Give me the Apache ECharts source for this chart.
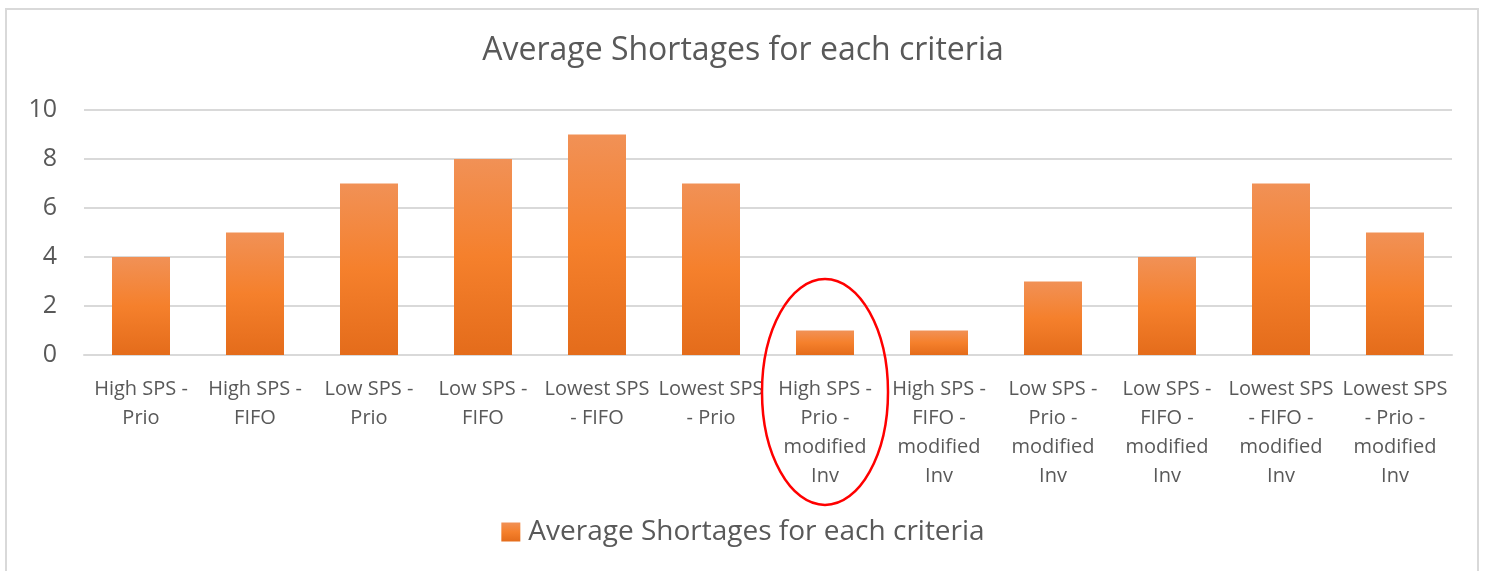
<!DOCTYPE html>
<html>
<head>
<meta charset="utf-8">
<script src="https://cdn.jsdelivr.net/npm/echarts@6/dist/echarts.min.js"></script>
<style>
  html, body { margin: 0; padding: 0; background: #fff; }
  #frame {
    position: absolute; left: 5px; top: 8px; width: 1474px; height: 570px;
    border: 2px solid #d9d9d9; border-bottom: none; box-sizing: border-box;
  }
  #chart { position: absolute; left: 0; top: 0; width: 1486px; height: 571px; }
</style>
</head>
<body>
<div id="frame"></div>
<div id="chart"></div>
<script>
// categories (tick labels wrapped as in the picture)
const categories = [
  'High SPS -\nPrio',
  'High SPS -\nFIFO',
  'Low SPS -\nPrio',
  'Low SPS -\nFIFO',
  'Lowest SPS\n- FIFO',
  'Lowest SPS\n- Prio',
  'High SPS -\nPrio -\nmodified\nInv',
  'High SPS -\nFIFO -\nmodified\nInv',
  'Low SPS -\nPrio -\nmodified\nInv',
  'Low SPS -\nFIFO -\nmodified\nInv',
  'Lowest SPS\n- FIFO -\nmodified\nInv',
  'Lowest SPS\n- Prio -\nmodified\nInv'
];
const shortages = [4, 5, 7, 8, 9, 7, 1, 1, 3, 4, 7, 5];
const seriesName = 'Average Shortages for each criteria';
const highlightIndex = 6;

const font = '"Open Sans", "Liberation Sans", sans-serif';
const chartDom = document.getElementById('chart');
const myChart = echarts.init(chartDom);

const barColor = {
  type: 'linear', x: 0, y: 0, x2: 0, y2: 1,
  colorStops: [
    { offset: 0, color: '#F19156' },
    { offset: 0.5, color: '#F5802C' },
    { offset: 1, color: '#E46C1B' }
  ]
};

const option = {
  animation: false,
  title: {
    text: 'Average Shortages for each criteria',
    left: 'center',
    top: 30,
    textStyle: { fontFamily: font, fontSize: 32, fontWeight: 'normal', color: '#595959' }
  },
  legend: {
    bottom: 20,
    left: 'center',
    itemWidth: 19,
    itemHeight: 19,
    itemGap: 10,
    icon: 'rect',
    textStyle: { fontFamily: font, fontSize: 28, color: '#595959', padding: [0, 0, 0, 3] },
    data: [{ name: seriesName, itemStyle: { color: barColor } }]
  },
  grid: { left: 84, right: 34, top: 110, bottom: 216 },
  xAxis: {
    type: 'category',
    data: categories,
    axisLine: { lineStyle: { color: '#d9d9d9', width: 2 } },
    axisTick: { show: false },
    axisLabel: {
      interval: 0,
      margin: 20,
      fontFamily: font,
      fontSize: 20,
      lineHeight: 29,
      color: '#595959'
    }
  },
  yAxis: {
    type: 'value',
    min: 0,
    max: 10,
    interval: 2,
    axisLine: { show: false },
    axisTick: { show: false },
    splitLine: { lineStyle: { color: '#d9d9d9', width: 2 } },
    axisLabel: { margin: 27, fontFamily: font, fontSize: 25, color: '#595959' }
  },
  series: [{
    name: seriesName,
    type: 'bar',
    data: shortages,
    barWidth: 58,
    itemStyle: {
      color: barColor,
      shadowColor: 'rgba(0,0,0,0.28)',
      shadowBlur: 4,
      shadowOffsetX: 2,
      shadowOffsetY: 2
    }
  }]
};
myChart.setOption(option);

// red ellipse around the highlighted category
const cx = myChart.convertToPixel({ xAxisIndex: 0 }, categories[highlightIndex]);
const y0 = myChart.convertToPixel({ yAxisIndex: 0 }, 0);
myChart.setOption({
  graphic: [{
    type: 'ellipse',
    shape: { cx: cx, cy: y0 + 37, rx: 63, ry: 113 },
    style: { fill: 'none', stroke: '#FF0000', lineWidth: 2.5 },
    z: 100
  }]
});

window.addEventListener('resize', () => myChart.resize());
</script>
</body>
</html>
